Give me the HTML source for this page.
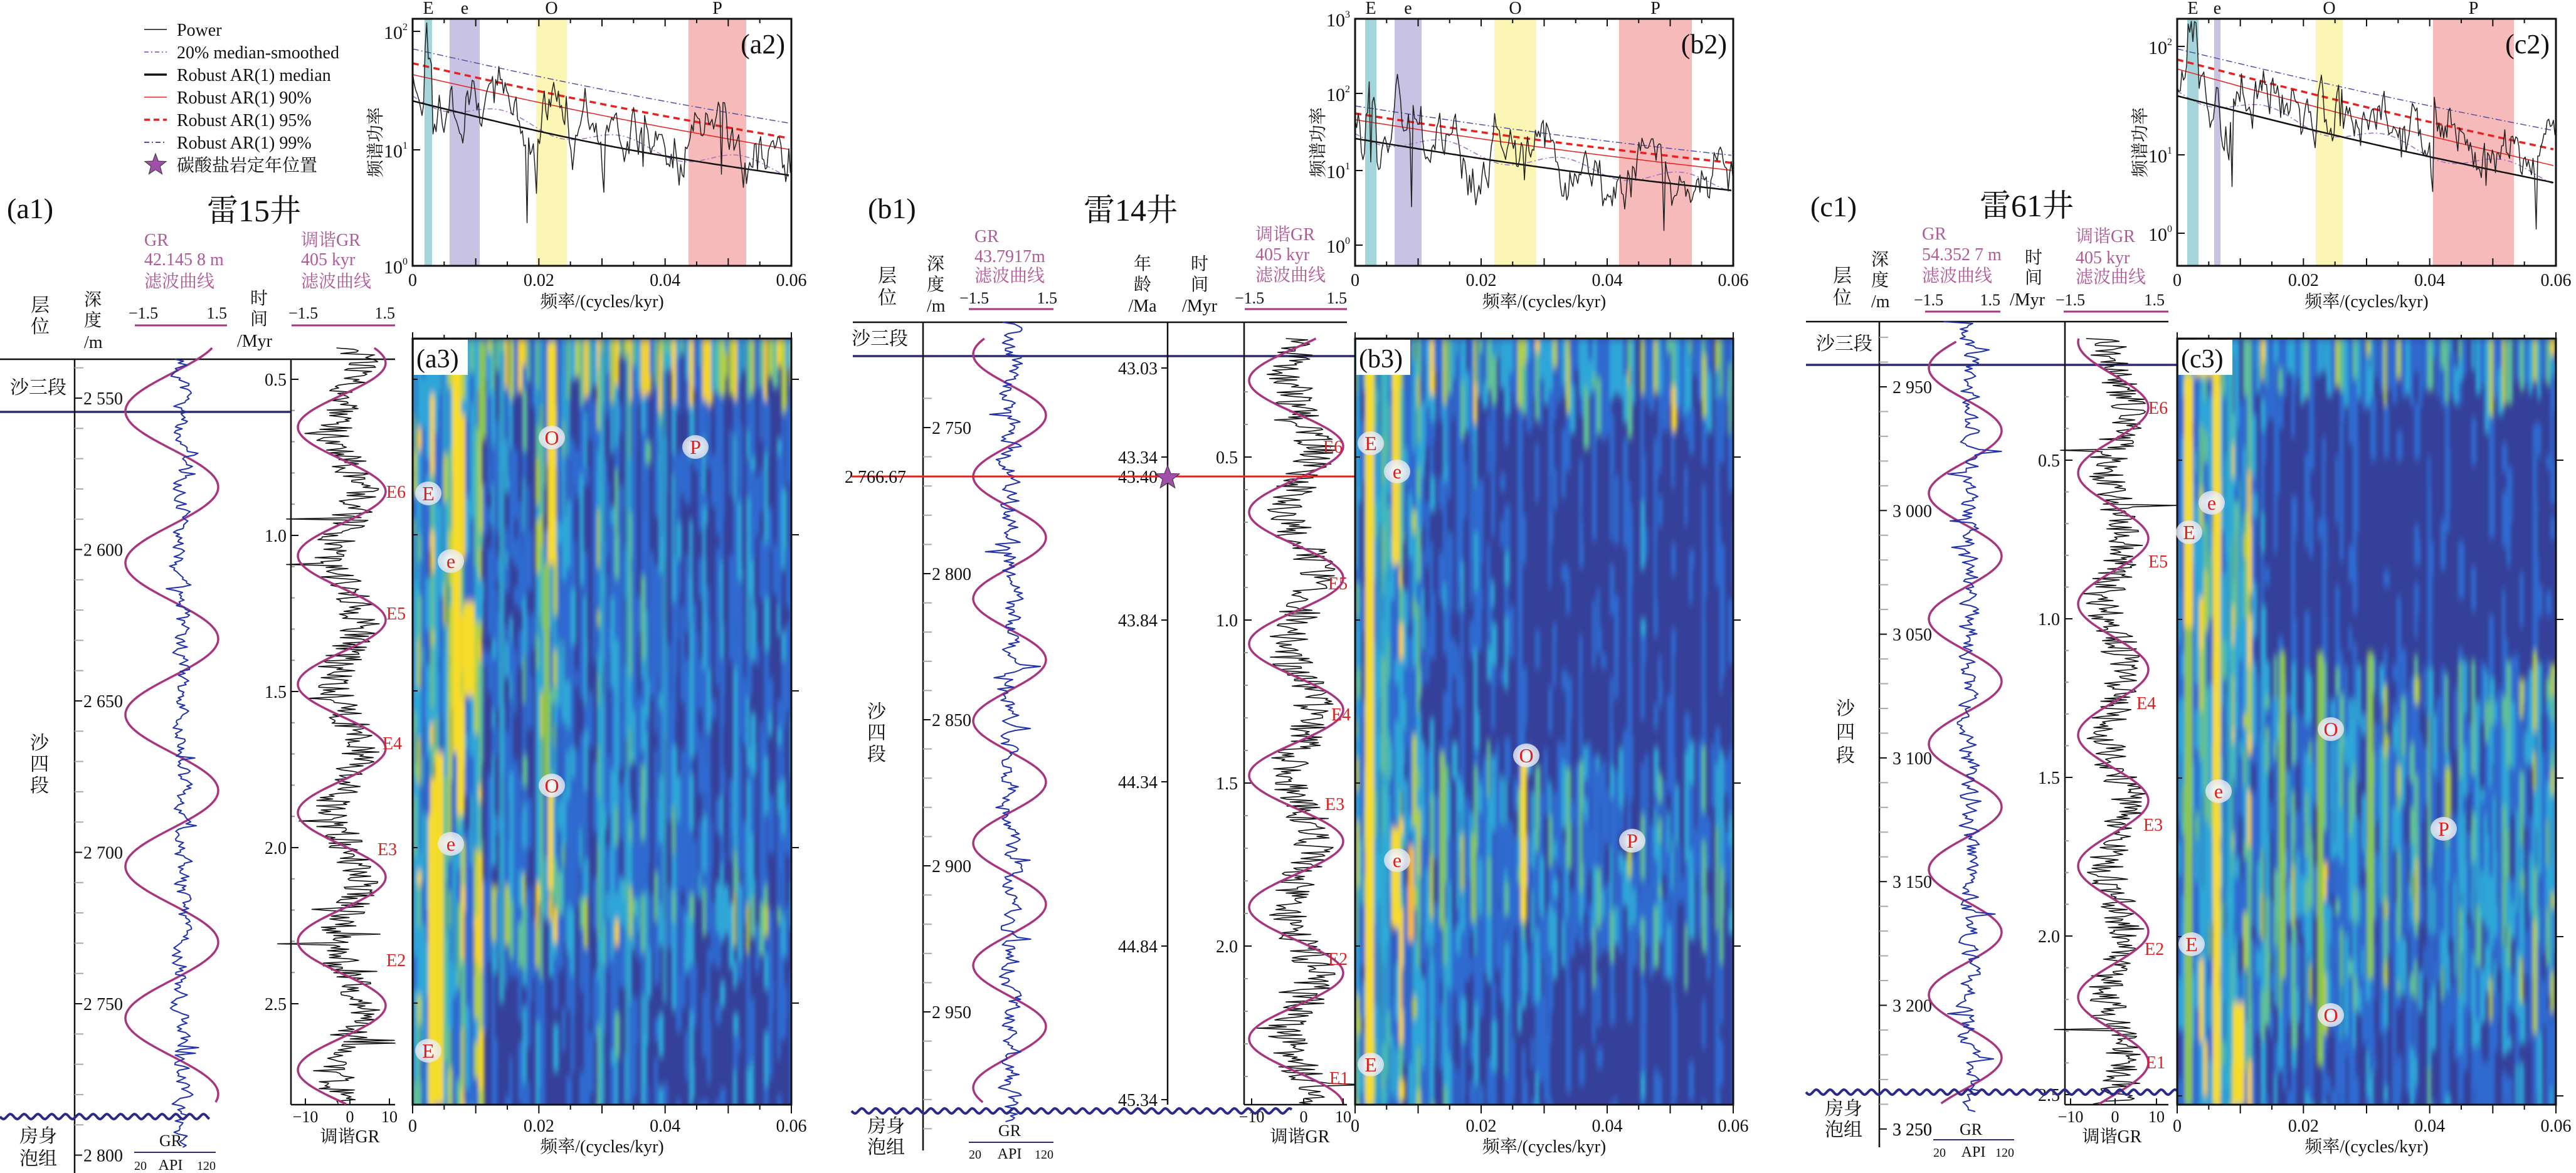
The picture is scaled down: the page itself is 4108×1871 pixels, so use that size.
<!DOCTYPE html>
<html><head><meta charset="utf-8"><style>
html,body{margin:0;padding:0;background:#fff;}
svg{display:block;font-family:"Liberation Serif","Noto Serif CJK SC",serif;}
</style></head><body>
<svg id="s" width="4108" height="1871" viewBox="0 0 4108 1871" xmlns="http://www.w3.org/2000/svg"></svg>
<script>
let R=12345;function rnd(){R=(R*16807)%2147483647;return R/2147483647}
let o='<defs><filter id="bl" x="-5%" y="-5%" width="110%" height="110%"><feGaussianBlur stdDeviation="3 7"/></filter><radialGradient id="lab"><stop offset="0" stop-color="#fff" stop-opacity="0.95"/><stop offset="1" stop-color="#e8e8f0" stop-opacity="0.8"/></radialGradient></defs>';
o+='<rect width="4108" height="1871" fill="#fff"/>';
function t(x,y,s,fs=28,a='start',c='#111',ex=''){o+=`<text x="${x}" y="${y}" font-size="${fs}" text-anchor="${a}" fill="${c}" ${ex}>${s}</text>`}
function l(x1,y1,x2,y2,c='#111',w=2,ex=''){o+=`<line x1="${x1}" y1="${y1}" x2="${x2}" y2="${y2}" stroke="${c}" stroke-width="${w}" ${ex}/>`}
function pl(p,c,w,ex=''){o+=`<polyline fill="none" stroke="${c}" stroke-width="${w}" stroke-linejoin="round" ${ex} points="${p.map(q=>q[0].toFixed(1)+','+q[1].toFixed(1)).join(' ')}"/>`}
function star(cx,cy,r,c){let p=[];for(let i=0;i<10;i++){const a=-Math.PI/2+i*Math.PI/5,rr=i%2?r*0.42:r;p.push((cx+rr*Math.cos(a)).toFixed(1)+','+(cy+rr*Math.sin(a)).toFixed(1))}o+=`<polygon points="${p.join(' ')}" fill="${c}" stroke="#333" stroke-width="1"/>`}
function wavy(x1,x2,y){let d=`M${x1},${y}`;for(let x=x1;x<=x2;x+=2)d+=` L${x},${(y+4*Math.sin((x-x1)/22*2*Math.PI)).toFixed(1)}`;o+=`<path d="${d}" fill="none" stroke="#2b2a86" stroke-width="4"/>`}
const P='#a8357f',PT='#b05a98',NV='#2d2a6e',BL='#2233aa',RD='#e02020';
function lab(x,y,s){o+=`<ellipse cx="${x}" cy="${y}" rx="21" ry="19" fill="url(#lab)"/>`;t(x,y+11,s,32,'middle',RD)}

function spec(x0,y0,w,h,bands,med,p90,p95,p99,dec,lbl,seed){
 R=seed;
 for(const b of bands){o+=`<rect x="${b[0]}" y="${y0}" width="${b[1]-b[0]}" height="${h}" fill="${b[2]}"/>`;t((b[0]+b[1])/2,22,b[3],28,'middle')}
 const L=(f,a)=>{let p=[];for(let x=x0;x<=x0+w;x+=6){const u=(x-x0)/w;p.push([x,a[0]+(a[1]-a[0])*u+a[2]*Math.sin(u*Math.PI)])}return p};
 let ms=[];for(let x=x0;x<=x0+w;x+=6){const u=(x-x0)/w;ms.push([x,med[0]+(med[1]-med[0])*u+med[2]*Math.sin(u*Math.PI)+12*Math.sin(u*20)-8])}
 pl(ms,'#a070c8',1.5,'stroke-dasharray="8 4 2 4"');
 pl(L(0,p99),'#5050a8',1.5,'stroke-dasharray="10 4 2 4"');
 pl(L(0,p90),'#e82020',1.5);
 pl(L(0,p95),'#e82020',3.5,'stroke-dasharray="10 7"');
 pl(L(0,med),'#111',2.5);
 let pw=[],s=0,slow=0;
 for(let x=x0;x<=x0+w;x+=2.5){const u=(x-x0)/w;const m=med[0]+(med[1]-med[0])*u+med[2]*Math.sin(u*Math.PI);
  slow=0.93*slow+0.07*(rnd()*2-1);
  s=0.55*s+0.45*(rnd()*2-1);let y=m-15+s*60+slow*260;if(rnd()<0.04)y+=rnd()*140;
  for(const b of bands){if(x>=b[0]&&x<=b[1])y-=b[4]}
  y=Math.max(y0+4,Math.min(y0+h-2,y));pw.push([x,y])}
 pl(pw,'#222',1.5);
 o+=`<rect x="${x0}" y="${y0}" width="${w}" height="${h}" fill="none" stroke="#111" stroke-width="3"/>`;
 for(let i=0;i<=12;i++){const x=x0+w*i/12;l(x,y0+h,x,y0+h-(i%2?7:12));l(x,y0,x,y0+(i%2?7:12))}
 ['0','0.02','0.04','0.06'].forEach((v,i)=>t(x0+w*i/3,y0+h+32,v,28,'middle'));
 t(x0+w/2,y0+h+66,'频率/(cycles/kyr)',28,'middle');
 for(const d of dec){l(x0,d[1],x0+12,d[1]);t(x0-8,d[1]+12,`10<tspan dy="-14" font-size="16">${d[0]}</tspan>`,30,'end')}
 t(x0-50,(y0+y0+h)/2,'频谱功率',28,'middle','#111',`transform="rotate(-90 ${x0-50} ${(y0+y0+h)/2})"`);
 t(x0+w-10,y0+55,lbl,44,'end');
}

function hm(x0,y0,w,h,dens,streaks,id,lbl,tt){
 R=id*7919+11;
 const cols=['#2f6bd0','#2ea6d8','#5fc09a','#b2d046','#f4d62a'];
 o+=`<clipPath id="c${id}"><rect x="${x0}" y="${y0}" width="${w}" height="${h}"/></clipPath><g clip-path="url(#c${id})"><rect x="${x0}" y="${y0}" width="${w}" height="${h}" fill="#35409a"/><g filter="url(#bl)">`;
 for(let x=x0;x<x0+w;x+=7){
  const cs=0.6+0.55*Math.pow(Math.abs(Math.sin((x-x0)*0.13+id)),3)+0.2*rnd();
  let y=y0;while(y<y0+h){const Lh=20+rnd()*90;const f=(x-x0)/w*0.06;const d=dens(f,y)*cs*(0.55+rnd()*0.6);
   const lv=d<0.3?-1:d<0.45?0:d<0.6?1:d<0.75?2:d<0.88?3:4;
   if(lv>=0)o+=`<rect x="${x}" y="${y.toFixed(0)}" width="${(5+rnd()*5).toFixed(1)}" height="${Lh.toFixed(0)}" fill="${cols[lv]}"/>`;y+=Lh}}
 for(const s of streaks)o+=`<rect x="${s[0]-s[3]/2}" y="${s[1]}" width="${s[3]}" height="${s[2]-s[1]}" fill="${s[4]}" opacity="${s[5]||1}"/>`;
 o+='</g></g>';
 o+=`<rect x="${x0}" y="${y0}" width="${w}" height="${h}" fill="none" stroke="#111" stroke-width="3"/>`;
 for(let i=0;i<=12;i++){const x=x0+w*i/12;l(x,y0+h,x,y0+h+(i%2?8:14));l(x,y0,x,y0-(i%2?6:10))}
 ['0','0.02','0.04','0.06'].forEach((v,i)=>t(x0+w*i/3,y0+h+43,v,28,'middle'));
 t(x0+w/2,y0+h+76,'频率/(cycles/kyr)',28,'middle');
 for(const y of tt){l(x0+w,y,x0+w+12,y);l(x0,y,x0+8,y)}
 o+=`<rect x="${x0+2}" y="${y0+2}" width="86" height="56" fill="#fff"/>`;t(x0+6,y0+46,lbl,42);
}
const Y='#f6dc2a',G='#8cc650',C='#30b0d0',O='#f5b830';

function gr(cx,amp,ya,yb,seed){R=seed;let p=[],s=0;for(let y=ya;y<=yb;y+=3){s=0.5*s+0.5*(rnd()*2-1);let x=cx+s*amp+(rnd()<0.04?(rnd()*2-1)*amp*1.3:0);p.push([x,y])}pl(p,BL,2)}
function sine(cx,A,ya,yb,per,ypk,sign){let p=[];for(let y=ya;y<=yb;y+=3)p.push([cx+sign*A*Math.cos(2*Math.PI*(y-ypk)/per),y]);pl(p,P,3.5)}
function tun(cx,A,ya,yb,per,ypk,amp,seed){R=seed;let p=[];for(let y=ya;y<=yb;y+=2.2){let x=cx+0.3*A*Math.cos(2*Math.PI*(y-ypk)/per)+(rnd()*2-1)*amp;if(rnd()<0.02)x+=(rnd()*2-1)*amp*2.5;p.push([x,y])}pl(p,'#111',1.6)}

/* PANEL A */
const leg=[['Power','#111',1.5,''],['20% median-smoothed','#a070c8',2,'stroke-dasharray="7 4 2 4"'],['Robust AR(1) median','#111',3.5,''],['Robust AR(1) 90%','#e82020',1.5,''],['Robust AR(1) 95%','#e82020',3.5,'stroke-dasharray="9 6"'],['Robust AR(1) 99%','#5050a8',2,'stroke-dasharray="8 4 2 4"']];
leg.forEach((g,i)=>{const y=47+36*i;l(230,y,266,y,g[1],g[2],g[3]);t(282,y+10,g[0],28)});
star(248,263,18,'#a050a8');t(282,273,'碳酸盐岩定年位置',28);
spec(658,30,604,394,[[677,689,'#a3d5da','E',70],[717,765,'#c8c3e2','e',40],[855,904,'#fbf6b3','O',50],[1098,1190,'#f7baba','P',25]],[161,280,10],[119,239,5],[101,221,5],[78,197,5],[[2,50],[1,239],[0,424]],'(a2)',101);
t(11,348,'(a1)',46);t(330,353,'雷15井',50);
t(230,392,'GR',28,'start',PT);t(230,423,'42.145 8 m',28,'start',PT);t(230,458,'滤波曲线',28,'start',PT);
t(480,392,'调谐GR',28,'start',PT);t(480,423,'405 kyr',28,'start',PT);t(480,458,'滤波曲线',28,'start',PT);
t(49,497,'层',30);t(49,531,'位',30);t(134,487,'深',28);t(134,520,'度',28);t(134,555,'/m',28);
t(205,508,'−1.5',26);t(362,508,'1.5',26,'end');l(215,519,362,519,P,3);
t(399,485,'时',28);t(399,518,'间',28);t(378,553,'/Myr',28);
t(460,508,'−1.5',26);t(630,508,'1.5',26,'end');l(465,519,630,519,P,3);
l(0,573,630,573,'#111',2.5);l(0,657,464,657,NV,3.5);l(119,573,119,1871,'#111',2.5);
t(16,628,'沙三段',30);t(48,1195,'沙',30);t(48,1229,'四',30);t(48,1263,'段',30);
for(let d=2540;d<=2800;d+=10){const y=635+(d-2550)*241.5/50;if(y<575)continue;if(d%50==0){l(119,y,131,y,'#111',2);t(133,y+10,'2 '+String(d).slice(1),28)}else l(119,y,133,y,'#aaa',2)}
sine(274,74,555,1760,242,656,-1);gr(290,22,573,1830,21);
for(let v=0.5;v<=2.51;v+=0.1){const y=605+(v-0.5)*498;const mj=Math.abs(v*2-Math.round(v*2))<1e-6;l(464,y,mj?476:470,y,mj?'#111':'#999',2);if(mj)t(457,y+10,v.toFixed(1),28,'end')}
l(464,573,464,1762,'#111',2.5);l(464,1762,630,1762,'#111',2.5);
tun(553,70,555,1762,205,784,32,31);sine(545,70,555,1762,205,784,1);
[[616,784,'E6'],[616,978,'E5'],[610,1185,'E4'],[602,1354,'E3'],[616,1531,'E2']].forEach(e=>t(e[0],e[1]+10,e[2],28,'start',RD));
[[487,'−10'],[558,'0'],[621,'10']].forEach(q=>{l(q[0],1762,q[0],1752);t(q[0],1790,q[1],26,'middle')});t(558,1822,'调谐GR',28,'middle');
wavy(0,335,1781);t(31,1822,'房身',30);t(31,1858,'泡组',30);
t(272,1828,'GR',26,'middle');l(214,1838,344,1838,NV,2);t(214,1866,'20',20);t(272,1866,'API',24,'middle');t(344,1866,'120',20,'end');
hm(658,540,604,1222,(f,y)=>{let d=0.44;if(y<565)d=0.9;if(f<0.011)d=0.72;if(f>0.019&&f<0.024&&y<1450)d=0.72;if(y>1390&&y<1480)d+=0.2;if(f>0.028&&f<0.037)d+=0.08;if(y>1480&&f>0.012)d-=0.06;return d},
 [[728,560,1200,14,Y],[748,960,1110,18,Y],[735,1110,1300,12,Y],[700,1200,1762,14,Y],[688,1300,1762,10,Y],[880,545,900,14,Y],[872,900,1250,9,G],[878,1250,1420,8,Y],[800,560,1600,9,C,0.8],[960,560,1762,9,C,0.7],[1000,560,1762,8,C,0.6],[1060,560,1600,8,C,0.6],[770,545,700,10,G]],1,'(a3)',[605,853,1102,1352,1600]);
[[880,698,'O'],[1109,713,'P'],[683,787,'E'],[719,895,'e'],[880,1253,'O'],[719,1346,'e'],[683,1676,'E']].forEach(q=>lab(q[0],q[1],q[2]));

/* PANEL B */
spec(2161,30,603,394,[[2177,2195,'#a3d5da','E',90],[2224,2267,'#c8c3e2','e',40],[2383,2450,'#fbf6b3','O',35],[2582,2698,'#f7baba','P',20]],[221,304,5],[191,272,4],[181,260,4],[169,248,4],[[3,30],[2,149],[1,272],[0,391]],'(b2)',202);
t(1384,348,'(b1)',46);t(1728,352,'雷14井',50);
t(1554,386,'GR',28,'start',PT);t(1554,418,'43.7917m',28,'start',PT);t(1554,449,'滤波曲线',28,'start',PT);
t(1400,450,'层',30);t(1400,485,'位',30);t(1478,430,'深',28);t(1478,463,'度',28);t(1478,497,'/m',28);
t(1530,484,'−1.5',26);t(1686,484,'1.5',26,'end');l(1545,493,1680,493,P,3);
t(1822,430,'年',28,'middle');t(1822,463,'龄',28,'middle');t(1822,497,'/Ma',28,'middle');
t(1913,430,'时',28,'middle');t(1913,463,'间',28,'middle');t(1913,497,'/Myr',28,'middle');
t(2002,383,'调谐GR',28,'start',PT);t(2002,415,'405 kyr',28,'start',PT);t(2002,448,'滤波曲线',28,'start',PT);
t(1969,484,'−1.5',26);t(2148,484,'1.5',26,'end');l(1985,493,2148,493,P,3);
l(1360,514,2148,514,'#111',2.5);l(1360,568,2160,568,NV,3.5);l(1472,514,1472,1835,'#111',2.5);
t(1358,550,'沙三段',30);t(1383,1145,'沙',30);t(1383,1179,'四',30);t(1383,1213,'段',30);
for(let d=2740;d<=2990;d+=10){const y=682+(d-2750)*233/50;if(y<516||y>1835)continue;if(d%50==0){l(1472,y,1484,y,'#111',2);t(1486,y+10,'2 '+String(d).slice(1),28)}else l(1472,y,1486,y,'#aaa',2)}
sine(1610,58,540,1760,195,760,-1);gr(1612,26,514,1790,41);
l(1862,514,1862,1762,'#111',2.5);
[[587,'43.03'],[729,'43.34'],[989,'43.84'],[1247,'44.34'],[1509,'44.84'],[1754,'45.34']].forEach(q=>{l(1852,q[0],1862,q[0]);t(1846,q[0]+10,q[1],28,'end')});
t(1846,770,'43.40',28,'end');
l(1984,514,1984,1762,'#111',2.5);l(1984,1762,2148,1762,'#111',2.5);
for(let v=0.3;v<=2.45;v+=0.1){const y=729+(v-0.5)*520;if(y<516||y>1762)continue;const mj=Math.abs(v*2-Math.round(v*2))<1e-6;l(1984,y,mj?1996:1990,y,mj?'#111':'#999',2);if(mj)t(1974,y+10,v.toFixed(1),28,'end')}
tun(2075,75,540,1762,210,712,34,51);sine(2067,75,540,1762,210,712,1);
[[2110,712,'E6'],[2118,930,'E5'],[2123,1139,'E4'],[2113,1282,'E3'],[2118,1529,'E2'],[2120,1719,'E1']].forEach(e=>t(e[0],e[1]+10,e[2],28,'start',RD));
[[1996,'−10'],[2079,'0'],[2142,'10']].forEach(q=>{l(q[0],1762,q[0],1752);t(q[0],1790,q[1],26,'middle')});t(2073,1822,'调谐GR',28,'middle');
l(1358,760,2161,760,'#e82020',3);t(1347,770,'2 766.67',28);star(1862,762,20,'#a050a8');
wavy(1358,2060,1772);t(1383,1806,'房身',30);t(1383,1840,'泡组',30);
t(1610,1812,'GR',26,'middle');l(1545,1822,1680,1822,NV,2);t(1545,1848,'20',20);t(1610,1848,'API',24,'middle');t(1680,1848,'120',20,'end');
hm(2161,540,603,1222,(f,y)=>{let d=0.32;if(y<620)d=0.68;else if(f<0.011)d=0.68;else if(y>1180&&y<1480)d=0.55;else if(f<0.025)d=0.38;if(y>1480&&f<0.03)d=Math.max(d,0.42);return d},
 [[2184,580,1762,14,Y],[2226,560,900,12,Y],[2226,1320,1480,14,Y],[2205,560,1762,22,C,0.6],[2430,1210,1470,10,Y],[2300,1200,1480,8,G],[2250,1350,1500,10,O],[2350,1330,1470,8,G]],2,'(b3)',[729,989,1249,1509]);
[[2186,707,'E'],[2228,752,'e'],[2434,1205,'O'],[2603,1341,'P'],[2228,1372,'e'],[2186,1698,'E']].forEach(q=>lab(q[0],q[1],q[2]));

/* PANEL C */
spec(3472,30,604,394,[[3488,3506,'#a3d5da','E',60],[3531,3541,'#c8c3e2','e',50],[3693,3736,'#fbf6b3','O',45],[3880,4009,'#f7baba','P',20]],[153,292,5],[110,265,4],[95,239,4],[78,209,4],[[2,74],[1,247],[0,372]],'(c2)',303);
t(2887,345,'(c1)',46);t(3157,345,'雷61井',50);
t(3065,382,'GR',28,'start',PT);t(3065,415,'54.352 7 m',28,'start',PT);t(3065,449,'滤波曲线',28,'start',PT);
t(2923,450,'层',30);t(2923,485,'位',30);t(2984,423,'深',28);t(2984,456,'度',28);t(2984,490,'/m',28);
t(3052,487,'−1.5',26);t(3190,487,'1.5',26,'end');l(3070,497,3190,497,P,3);
t(3229,420,'时',28);t(3229,452,'间',28);t(3205,487,'/Myr',28);
t(3310,386,'调谐GR',28,'start',PT);t(3310,420,'405 kyr',28,'start',PT);t(3310,451,'滤波曲线',28,'start',PT);
t(3278,487,'−1.5',26);t(3452,487,'1.5',26,'end');l(3291,497,3458,497,P,3);
l(2880,513,3458,513,'#111',2.5);l(2880,582,3472,582,NV,3.5);l(2997,513,2997,1830,'#111',2.5);
t(2896,558,'沙三段',30);t(2928,1140,'沙',30);t(2928,1178,'四',30);t(2928,1215,'段',30);
for(let d=2930;d<=3250;d+=10){const y=617+(d-2950)*197.3/50;if(y<515||y>1830)continue;if(d%50==0){l(2997,y,3009,y,'#111',2);t(3018,y+10,String(d).slice(0,1)+' '+String(d).slice(1),28)}else l(2997,y,3011,y,'#aaa',2)}
sine(3134,58,545,1760,200,787,-1);gr(3140,26,513,1775,61);
l(3293,513,3293,1762,'#111',2.5);l(3293,1762,3458,1762,'#111',2.5);
for(let v=0.3;v<=2.51;v+=0.1){const y=734+(v-0.5)*506;if(y<515||y>1762)continue;const mj=Math.abs(v*2-Math.round(v*2))<1e-6;l(3293,y,mj?3305:3299,y,mj?'#111':'#999',2);if(mj)t(3285,y+10,v.toFixed(1),28,'end')}
tun(3375,55,540,1762,209,650,32,71);sine(3370,56,540,1762,209,650,1);
[[3426,650,'E6'],[3426,895,'E5'],[3407,1121,'E4'],[3418,1315,'E3'],[3420,1513,'E2'],[3422,1694,'E1']].forEach(e=>t(e[0],e[1]+10,e[2],28,'start',RD));
[[3302,'−10'],[3373,'0'],[3439,'10']].forEach(q=>{l(q[0],1762,q[0],1752);t(q[0],1790,q[1],26,'middle')});t(3368,1822,'调谐GR',28,'middle');
wavy(2880,3472,1742);t(2910,1778,'房身',30);t(2910,1812,'泡组',30);t(3018,1811,'3 250',28);
t(3143,1810,'GR',26,'middle');l(3083,1818,3212,1818,NV,2);t(3083,1845,'20',20);t(3147,1845,'API',24,'middle');t(3212,1845,'120',20,'end');
hm(3472,540,604,1222,(f,y)=>{let d=0.33;if(y<590)d=0.65;if(f<0.012)d=0.72;if(y>1040&&y<1580)d=Math.max(d,0.6);if(y>1580)d=Math.max(d,0.42);if(y>590&&y<1040&&f>0.015)d=0.3;return d},
 [[3490,600,1000,14,Y],[3490,1000,1762,12,G],[3535,560,1762,12,Y],[3700,1040,1700,10,G],[3570,1600,1762,18,Y],[3640,1040,1560,10,G],[3780,1040,1560,10,G],[3555,560,1762,10,C,0.8],[3515,545,600,30,Y]],3,'(c3)',[734,988,1241,1494,1748]);
[[3527,802,'e'],[3491,849,'E'],[3717,1163,'O'],[3538,1262,'e'],[3897,1322,'P'],[3495,1506,'E'],[3717,1619,'O']].forEach(q=>lab(q[0],q[1],q[2]));

document.getElementById('s').innerHTML=o;
</script>
</body></html>
